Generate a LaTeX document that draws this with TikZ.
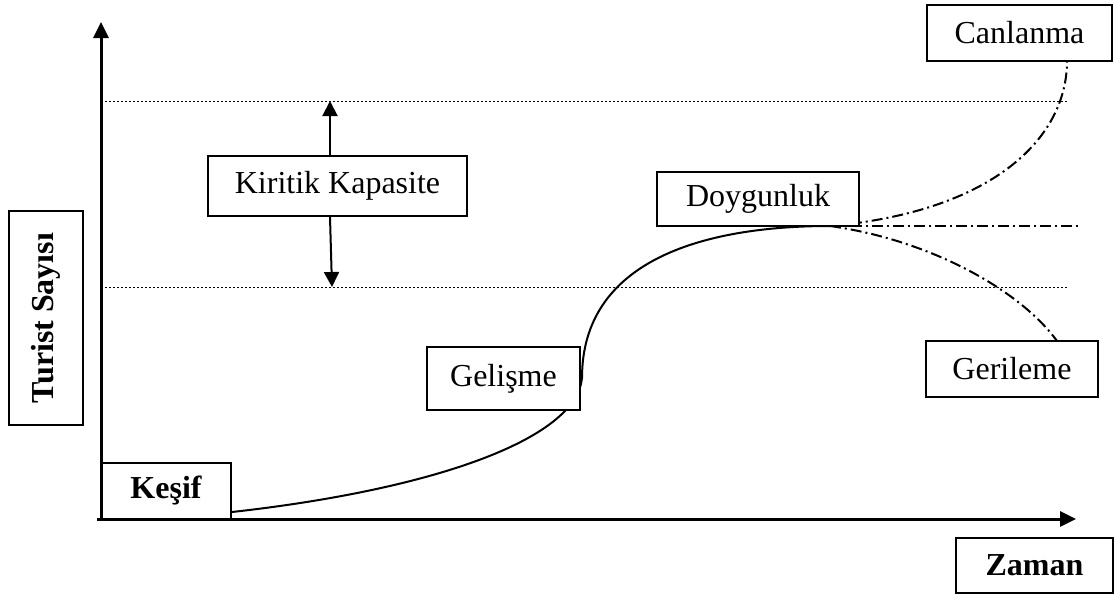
\documentclass[tikz,border=0pt]{standalone}
\usepackage{fontspec}
\setmainfont{Liberation Serif}
\usetikzlibrary{arrows.meta}
\tikzset{
    kutu/.style={draw, line width=1pt, inner sep=0pt, font=\fontsize{16}{19}\selectfont},
    eksen/.style={line width=1.5pt, -{Triangle[length=8pt,width=7.5pt]}},
    ok/.style={line width=1pt, -{Triangle[length=7.5pt,width=7.5pt]}},
    sinir/.style={line width=0.5pt, dash pattern=on 0.8pt off 1.2pt},
    egri/.style={line width=1pt},
    senaryo/.style={line width=1pt, dash pattern=on 5.5pt off 2pt on 1pt off 2pt}
}

\begin{document}
\begin{tikzpicture}[x=0.5pt, y=-0.5pt]
                \useasboundingbox (0,0) rectangle (1115,594);
                \coordinate (O) at (101,519);
                \coordinate (ytop) at (101,22);
                \coordinate (xend) at (1076,519);
                \coordinate (ust1) at (105,101);
                \coordinate (ust2) at (1068,101);
                \coordinate (alt1) at (105,287);
                \coordinate (alt2) at (1068,287);
                \coordinate (kkup) at (330,101);
                \coordinate (kkdown) at (332,287);
                \coordinate (tepe) at (830,226);
                \coordinate (duz) at (1080,226);
                \coordinate (bukum) at (582,378);

                \draw[eksen] ([xshift=-2pt]O) -- (xend);
                \draw[eksen] ([yshift=-0.75pt]O) -- (ytop);
                \draw[sinir] (ust1) -- (ust2);
                \draw[sinir] (alt1) -- (alt2);

                \node[kutu, minimum width=129.5pt, minimum height=30pt] (kiritik) at (337.5,186) {Kiritik Kapasite};
                \node[kutu, minimum width=107pt, minimum height=37pt, rotate=90, font=\fontsize{16}{19}\selectfont\bfseries] (turist) at (46,318) {Turist Sayısı};
                \node[kutu, minimum width=65pt, minimum height=28pt, font=\fontsize{16}{19}\selectfont\bfseries] (kesif) at (166,491) {Keşif};
                \node[kutu, minimum width=78.5pt, minimum height=27.5pt, font=\fontsize{16}{19}\selectfont\bfseries] (zaman) at (1034.5,565.5) {Zaman};

                \draw[ok] ([xshift=-3.75pt]kiritik.north) -- (kkup);
                \draw[ok] ([xshift=-3.75pt]kiritik.south) -- (kkdown);

                % yasam egrisi
                \draw[egri] (kesif.east |- 0,512) .. controls (430,490) and (576,440) .. (bukum);
                \draw[egri] (bukum) .. controls (582,262) and (700,226) .. (tepe);
                \draw[senaryo] (tepe) .. controls (990,212) and (1067,140) .. (1067,61) coordinate (cn);
                \draw[senaryo] (tepe) -- (duz);
                \draw[senaryo] (tepe) .. controls (930,240) and (1020,290) .. (1057,341) coordinate (gr);

                \node[kutu, fill=white, minimum width=76.5pt, minimum height=31.5pt] (gelisme) at (503.5,378.5) {Gelişme};
                \node[kutu, fill=white, minimum width=101pt, minimum height=27pt] (doygunluk) at (758,199) {Doygunluk};
                \node[kutu, minimum width=92.5pt, minimum height=28pt] (canlanma) at (1019.5,33) {Canlanma};
                \node[kutu, minimum width=86pt, minimum height=28pt] (gerileme) at (1012,369) {Gerileme};

            \end{tikzpicture}
\end{document}
